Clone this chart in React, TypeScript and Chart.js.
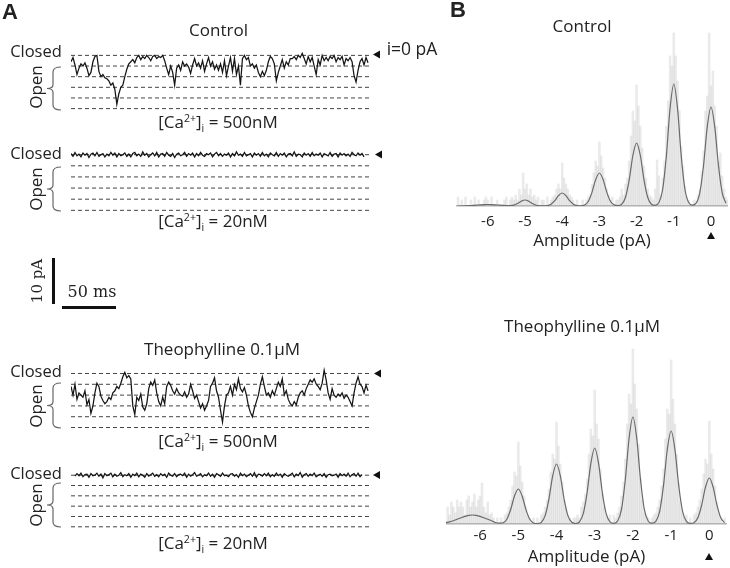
import React, { useEffect, useRef } from "react";
import { Chart, registerables } from "chart.js";
Chart.register(...registerables);

const SANS = '"Open Sans", "DejaVu Sans", sans-serif';
const SERIF = '"DejaVu Serif", "Liberation Serif", serif';
const INK = "#222";

// ---------- Panel A: single-channel traces (levels: 0 = closed, -1..-5 = open levels) ----------
const LEVELS = [0, -1, -2, -3, -4, -5];

const TRACE_CONTROL_500 = [
  -0.6, -0.2, -0.9, -1.8, -1.2, -0.8, -1.0, -0.7, -1.2, -1.9,
  -1.6, -0.6, -0.1, 0.0, -1.5, -2.0, -1.8, -2.1, -2.2, -2.4,
  -2.8, -2.6, -3.2, -4.6, -3.6, -3.0, -2.8, -2.0, -1.3, -0.8,
  -0.6, -0.4, -0.7, -0.2, 0.0, -0.4, -0.1, -0.3, 0.0, -0.2,
  -0.5, -0.1, 0.0, -0.3, -0.1, -0.2, 0.0, -0.5, -1.2, -1.8,
  -1.0, -1.6, -2.8, -1.2, -0.9, -1.4, -0.6, -1.0, -0.8, -1.1,
  -1.7, -0.9, -0.3, -1.0, -0.7, -1.2, -0.5, -1.5, -0.8, -0.2,
  -1.0, -0.6, -1.3, -0.9, -1.4, -0.8, -1.6, -0.5, -1.9, -1.0,
  -0.2, -1.5, -0.3, -1.8, -1.0, -2.8, -0.3, 0.0, -0.4, -0.2,
  -1.0, -0.8, -1.2, -0.9, -1.6, -2.0, -1.5, -1.9, -1.4, -0.6,
  -0.1, -0.3, -0.8, -2.4, -1.6, -1.0, -0.4, -1.2, -0.6, -0.9,
  -0.3, -0.3, -0.1, -0.4, 0.0, -0.2, 0.2, -0.3, -0.8, -0.1,
  -0.6, -0.2, -1.0, -1.8, -0.4, -0.9, 0.0, -0.5, -0.2, -0.5,
  -0.1, -0.3, 0.0, -0.6, -0.2, -0.4, -0.1, -0.9, -0.3, -0.5,
  -0.2, -0.6, -1.9, -2.5, -1.4, -0.6, -0.3, -0.9, -0.2, -0.7,
];

const TRACE_CONTROL_20 = [
  0.1, -0.15, 0.2, -0.1, 0.05, -0.2, 0.15, -0.05, 0.1, -0.25,
  0.05, 0.15, -0.1, 0.2, -0.15, 0.0, 0.1, -0.2, 0.05, -0.1,
  0.2, -0.05, 0.15, -0.2, 0.1, -0.1, 0.0, 0.15, -0.15, 0.05,
  -0.2, 0.1, 0.2, -0.1, 0.05, -0.15, 0.25, -0.05, 0.1, -0.2,
  0.0, 0.15, -0.1, 0.2, -0.2, 0.05, 0.1, -0.15, 0.2, -0.05,
  -0.15, 0.1, -0.25, 0.05, 0.15, -0.1, 0.0, 0.2, -0.15, 0.1,
  -0.05, 0.15, -0.2, 0.1, -0.1, 0.2, -0.05, -0.15, 0.1, 0.0,
  0.15, -0.2, 0.05, 0.2, -0.1, 0.1, -0.15, 0.05, -0.05, 0.15,
  -0.2, 0.1, -0.1, 0.25, -0.05, 0.05, -0.15, 0.2, -0.1, 0.0,
  0.1, -0.2, 0.15, -0.05, 0.1, -0.15, 0.2, -0.1, 0.05, -0.2,
  0.15, 0.0, -0.1, 0.2, -0.15, 0.1, -0.05, 0.15, -0.2, 0.05,
  0.1, -0.1, 0.25, -0.15, 0.05, 0.0, -0.2, 0.15, -0.05, 0.1,
  -0.15, 0.2, -0.1, 0.05, -0.05, 0.15, -0.2, 0.1, 0.0, -0.1,
  0.2, -0.15, 0.05, 0.1, -0.2, 0.15, -0.05, 0.1, -0.1, 0.05,
  -0.15, 0.2, 0.0, -0.1, 0.15, -0.05, 0.1, -0.2,
];

const TRACE_THEO_500 = [
  -1.2, -2.0, -1.0, -2.4, -1.8, -2.0, -2.2, -1.6, -2.9, -2.4,
  -3.7, -3.0, -1.8, -0.9, -1.2, -2.1, -2.5, -2.8, -2.6, -2.2,
  -2.4, -1.8, -1.6, -1.2, -1.4, -0.9, -0.3, 0.1, -0.4, -0.2,
  -0.5, -3.0, -3.8, -2.2, -2.5, -1.9, -3.1, -3.4, -2.8, -1.4,
  -0.8, -1.1, -0.6, -1.8, -2.6, -3.0, -2.2, -2.8, -1.2, -0.8,
  -1.1, -1.6, -1.9, -1.4, -1.8, -2.0, -2.1, -1.7, -2.2, -1.9,
  -1.0, -1.6, -2.3, -2.0, -2.6, -3.2, -2.8, -3.4, -3.0, -2.5,
  -1.2, -0.9, -0.4, -1.6, -2.2, -3.4, -4.5, -3.0, -2.0, -1.8,
  -1.2, -2.0, -1.0, -1.5, -0.5, -1.4, -1.7, -1.3, -2.0, -3.0,
  -3.6, -4.0, -3.2, -2.6, -2.0, -1.0, -0.3, -1.2, -2.0, -1.8,
  -2.2, -1.6, -2.0, -1.4, -0.8, -1.2, -0.5, -2.0, -1.6, -2.4,
  -2.8, -3.0, -2.6, -2.9, -2.2, -1.8, -1.6, -2.0, -1.4, -1.0,
  -0.6, -0.8, -0.5, -1.0, -1.2, -1.5, -0.9, 0.3, -0.6, -1.8,
  -2.4, -1.4, -2.0, -2.2, -1.9, -2.1, -1.8, -2.3, -2.0, -2.2,
  -2.6, -3.0, -1.8, -0.9, -0.3, -1.0, -1.2, -1.8, -1.1, -1.6,
];

const TRACE_THEO_20 = [
  -0.1, 0.15, -0.05, 0.2, -0.15, 0.05, 0.1, -0.2, 0.15, -0.05,
  0.0, 0.2, -0.1, 0.1, -0.25, 0.15, -0.05, 0.05, 0.2, -0.15,
  0.1, -0.1, 0.0, 0.25, -0.15, 0.05, -0.05, 0.15, -0.2, 0.1,
  -0.05, 0.2, -0.15, 0.1, 0.0, -0.2, 0.15, -0.1, 0.05, 0.2,
  -0.1, 0.05, -0.15, 0.15, -0.05, 0.1, -0.2, 0.2, 0.0, -0.1,
  0.15, -0.15, 0.05, 0.1, -0.05, 0.2, -0.2, 0.1, -0.1, 0.05,
  0.25, -0.1, 0.0, 0.15, -0.15, 0.05, -0.05, 0.2, -0.1, 0.1,
  -0.2, 0.15, 0.05, -0.1, 0.2, -0.05, 0.0, -0.15, 0.1, 0.15,
  -0.1, 0.05, -0.2, 0.2, -0.05, 0.1, -0.15, 0.0, 0.15, -0.1,
  0.25, -0.2, 0.1, 0.05, -0.1, 0.15, -0.05, 0.2, -0.15, 0.05,
  -0.1, 0.2, -0.05, 0.1, -0.2, 0.15, 0.0, -0.1, 0.05, 0.2,
  -0.15, 0.1, -0.05, 0.25, -0.2, 0.05, 0.15, -0.1, 0.1, -0.05,
  0.2, -0.15, 0.0, 0.1, -0.1, 0.15, -0.2, 0.05, 0.1, -0.05,
  0.0, 0.1, -0.2, 0.15, -0.05, 0.1, -0.1, 0.2, -0.15, 0.05,
  0.15, -0.1, 0.2, -0.15, 0.05,
];

// ---------- Panel B: amplitude histograms (counts) and Gaussian fits ----------
const AMP_TICKS = [-6, -5, -4, -3, -2, -1, 0];
const BIN_WIDTH = 0.05;
const FIT_STEP = 0.1;

const CONTROL_BIN_START = -6.8;
const CONTROL_COUNTS = [
  9, 0, 6, 0, 9, 0,
  0, 6, 0, 9, 0, 6, 0, 0, 6, 9, 6, 0, 9, 0, 0, 6, 0, 0, 0, 6,
  9, 0, 6, 9, 6, 11, 6, 17, 11, 33, 17, 22, 11, 17, 9, 11, 6, 9, 0, 6,
  6, 0, 9, 0, 6, 9, 11, 17, 22, 17, 43, 28, 22, 17, 11, 9, 6, 0, 6, 0,
  0, 6, 0, 6, 9, 11, 22, 33, 45, 40, 64, 50, 38, 28, 17, 11, 6, 9, 0, 6,
  6, 9, 17, 11, 22, 28, 45, 70, 95, 85, 121, 100, 80, 58, 40, 28, 17, 11, 9, 6,
  17, 46, 30, 11, 28, 45, 80, 105, 150, 140, 173, 150, 125, 95, 60, 40, 20, 9, 6, 0,
  0, 6, 0, 11, 17, 35, 55, 95, 110, 173, 120, 135, 100, 80, 45, 53, 30, 17, 9, 6,
];
const CONTROL_FIT_START = -6.8;
const CONTROL_FIT = [
  0, 0, 0.1, 0.3, 0.6, 0.9, 1.2, 1.4, 1.5, 1.4, 1.2, 0.9, 0.6, 0.4,
  0.4, 0.8, 2.5, 4.8, 6, 4.8, 2.5, 0.8, 0.2, 0.1,
  0.4, 1.8, 5.3, 10.4, 13, 10.4, 5.3, 1.8, 0.4, 0.2,
  0.9, 4.5, 13.6, 26.4, 33, 26.4, 13.6, 4.5, 1.1, 0.4,
  1.8, 8.5, 25.9, 50.5, 63, 50.5, 25.9, 8.5, 1.8, 0.7,
  3.4, 16.5, 50.1, 97.7, 122, 97.7, 50.1, 16.5, 3.4, 0.9,
  2.8, 13.4, 40.7, 79.3, 99, 79.3, 40.7, 13.4, 2.8,
];

const THEO_BIN_START = -6.85;
const THEO_COUNTS = [
  17, 9, 22, 17, 11, 24, 17,
  22, 17, 9, 24, 28, 17, 22, 30, 17, 24, 28, 41, 17, 11, 22, 9, 11, 6, 0, 6,
  0, 6, 0, 9, 11, 17, 24, 38, 52, 48, 82, 58, 42, 28, 17, 9, 6, 0, 6, 0,
  6, 0, 9, 11, 17, 24, 35, 52, 70, 65, 102, 78, 60, 42, 24, 17, 9, 6, 0, 6,
  6, 9, 6, 17, 22, 30, 45, 70, 95, 88, 134, 100, 85, 55, 30, 17, 9, 6, 9, 0,
  9, 6, 11, 17, 28, 42, 65, 100, 130, 120, 175, 140, 115, 80, 45, 24, 11, 9, 6, 0,
  6, 9, 11, 17, 24, 38, 55, 85, 115, 110, 164, 125, 100, 70, 40, 22, 11, 6, 9, 0,
  6, 0, 9, 11, 17, 24, 35, 50, 65, 60, 103, 70, 55, 38, 22, 11, 6, 0, 6, 0,
];
const THEO_FIT_START = -6.9;
const THEO_FIT = [
  1.3, 2.1, 3.2, 4.7, 6.2, 7.6, 8.6, 9, 8.6, 7.6, 6.2, 4.7, 3.2, 1.5, 0.8,
  1.2, 4.8, 14.5, 28, 35, 28, 14.4, 4.7, 1.0, 0.4,
  1.7, 8.1, 24.7, 48.1, 60, 48.1, 24.7, 8.1, 1.7, 0.5,
  2.1, 10.3, 31.2, 60.9, 76, 60.9, 31.2, 10.3, 2.1, 0.7,
  3.0, 14.4, 44, 85.7, 107, 85.7, 44, 14.4, 3.0, 0.8,
  2.6, 12.6, 38.2, 74.5, 93, 74.5, 38.2, 12.6, 2.6, 0.6,
  1.3, 6.2, 18.9, 36.8, 46, 36.8, 18.9, 6.2, 1.3,
];

// ---------- components ----------
function TraceChart({ values, start = 0, left, top, width, height }) {
  const ref = useRef(null);
  useEffect(() => {
    const chart = new Chart(ref.current, {
      type: "line",
      data: {
        datasets: [
          {
            data: values.map((y, i) => ({ x: i + start, y })),
            borderColor: "#151515",
            borderWidth: 1.25,
            pointRadius: 0,
            tension: 0,
          },
          ...LEVELS.map((lv) => ({
            data: [
              { x: 0, y: lv },
              { x: 151, y: lv },
            ],
            borderColor: "#444",
            borderWidth: 1,
            borderDash: [4, 3],
            pointRadius: 0,
          })),
        ],
      },
      options: {
        animation: false,
        responsive: false,
        events: [],
        layout: { padding: 0 },
        plugins: { legend: { display: false }, tooltip: { enabled: false } },
        scales: {
          x: { type: "linear", display: false, min: 0, max: 151 },
          y: { display: false, min: -5.6, max: 0.6 },
        },
      },
    });
    return () => chart.destroy();
  }, []);
  return (
    <canvas
      ref={ref}
      width={width}
      height={height}
      style={{ position: "absolute", left, top, width, height }}
    />
  );
}

function HistChart({ counts, binStart, fit, fitStart, xMin, xMax, yMax, left, top, width, axisHeight, tickPad }) {
  const ref = useRef(null);
  const height = yMax + axisHeight;
  useEffect(() => {
    const chart = new Chart(ref.current, {
      type: "bar",
      data: {
        datasets: [
          {
            type: "line",
            data: fit.map((y, i) => ({ x: +(fitStart + i * FIT_STEP).toFixed(2), y })),
            borderColor: "#6a6a6a",
            borderWidth: 1.2,
            pointRadius: 0,
            cubicInterpolationMode: "monotone",
            order: 0,
          },
          {
            type: "bar",
            data: counts.map((y, i) => ({ x: +(binStart + i * BIN_WIDTH).toFixed(3), y })),
            backgroundColor: "rgba(185,185,185,0.3)",
            borderWidth: 0,
            barPercentage: 1,
            categoryPercentage: 1,
            order: 1,
          },
        ],
      },
      options: {
        animation: false,
        responsive: false,
        events: [],
        layout: { padding: 0 },
        plugins: { legend: { display: false }, tooltip: { enabled: false } },
        scales: {
          x: {
            type: "linear",
            min: xMin,
            max: xMax,
            offset: false,
            grid: { display: false, drawTicks: false },
            border: { display: true, color: "#b0b0b0", width: 1.5 },
            afterBuildTicks: (axis) => {
              axis.ticks = AMP_TICKS.map((v) => ({ value: v }));
            },
            afterFit: (axis) => {
              axis.height = axisHeight;
            },
            ticks: {
              autoSkip: false,
              maxRotation: 0,
              padding: tickPad,
              color: INK,
              font: { family: SANS, size: 15 },
              callback: (v) => String(v),
            },
            title: {
              display: true,
              text: "Amplitude (pA)",
              color: INK,
              padding: { top: 0, bottom: 0 },
              font: { family: SANS, size: 17 },
            },
          },
          y: { display: false, min: 0, max: yMax },
        },
      },
    });
    return () => chart.destroy();
  }, []);
  return (
    <canvas
      ref={ref}
      width={width}
      height={height}
      style={{ position: "absolute", left, top, width, height }}
    />
  );
}

function Txt({ x, y, size = 17, family = SANS, weight = 400, rotate = false, children }) {
  return (
    <div
      style={{
        position: "absolute",
        left: x,
        top: y,
        transform: `translate(-50%, -50%)${rotate ? " rotate(-90deg)" : ""}`,
        fontFamily: family,
        fontSize: size,
        fontWeight: weight,
        lineHeight: 1,
        whiteSpace: "nowrap",
        color: INK,
      }}
    >
      {children}
    </div>
  );
}

function CaLabel({ x, y, conc }) {
  return (
    <Txt x={x} y={y}>
      [Ca
      <span style={{ fontSize: "0.62em", position: "relative", top: "-0.6em" }}>2+</span>]
      <span style={{ fontSize: "0.62em", position: "relative", top: "0.35em" }}>i</span>
      {" = " + conc}
    </Txt>
  );
}

function Brace({ top, bottom }) {
  const mid = (top + bottom) / 2;
  const d = `M61,${top} Q53,${top} 53,${top + 5} L53,${mid - 4} Q53,${mid} 47,${mid} Q53,${mid} 53,${mid + 4} L53,${bottom - 5} Q53,${bottom} 61,${bottom}`;
  return <path d={d} fill="none" stroke="#666" strokeWidth={1.2} />;
}

function LeftTri({ x, y }) {
  return <polygon points={`${x},${y} ${x + 7},${y - 4} ${x + 7},${y + 4}`} fill="#111" />;
}

function UpTri({ x, y }) {
  return <polygon points={`${x},${y - 4} ${x - 4},${y + 3} ${x + 4},${y + 3}`} fill="#111" />;
}

export default function App() {
  return (
    <div
      style={{
        position: "absolute",
        left: 0,
        top: 0,
        width: 730,
        height: 568,
        overflow: "hidden",
        background: "#fff",
      }}
    >
      {/* Panel A traces */}
      <TraceChart values={TRACE_CONTROL_500} left={71} top={49} width={301} height={66} />
      <TraceChart values={TRACE_CONTROL_20} left={71} top={148} width={301} height={69} />
      <TraceChart values={TRACE_THEO_500} left={71} top={367} width={301} height={67} />
      <TraceChart values={TRACE_THEO_20} start={2} left={71} top={469} width={301} height={64} />

      {/* Panel B histograms */}
      <HistChart
        counts={CONTROL_COUNTS}
        binStart={CONTROL_BIN_START}
        fit={CONTROL_FIT}
        fitStart={CONTROL_FIT_START}
        xMin={-6.855}
        xMax={0.457}
        yMax={176}
        left={456}
        top={30}
        width={272}
        axisHeight={45}
        tickPad={7}
      />
      <HistChart
        counts={THEO_COUNTS}
        binStart={THEO_BIN_START}
        fit={THEO_FIT}
        fitStart={THEO_FIT_START}
        xMin={-6.893}
        xMax={0.463}
        yMax={184}
        left={446}
        top={340}
        width={281}
        axisHeight={43}
        tickPad={3}
      />

      {/* graphics */}
      <svg
        width={730}
        height={568}
        style={{ position: "absolute", left: 0, top: 0, pointerEvents: "none" }}
      >
        <Brace top={67} bottom={110} />
        <Brace top={167} bottom={211} />
        <Brace top={383} bottom={428} />
        <Brace top={483} bottom={527} />
        <LeftTri x={373} y={54.5} />
        <LeftTri x={375} y={154.5} />
        <LeftTri x={374} y={373.5} />
        <LeftTri x={373} y={475} />
        <rect x={52} y={258} width={3} height={46} fill="#111" />
        <rect x={62} y={306} width={54} height={3} fill="#111" />
        <UpTri x={711} y={236} />
        <UpTri x={709} y={557} />
      </svg>

      {/* text */}
      <Txt x={10} y={12} size={22} weight={700} family='"Liberation Sans", Arial, sans-serif'>A</Txt>
      <Txt x={458} y={10} size={22} weight={700} family='"Liberation Sans", Arial, sans-serif'>B</Txt>

      <Txt x={218.5} y={29}>Control</Txt>
      <Txt x={36} y={51} size={16.5}>Closed</Txt>
      <Txt x={35} y={87} rotate>Open</Txt>
      <Txt x={412} y={49} size={17.5}>i=0 pA</Txt>
      <CaLabel x={218} y={121} conc="500nM" />

      <Txt x={36} y={153} size={16.5}>Closed</Txt>
      <Txt x={35} y={189} rotate>Open</Txt>
      <CaLabel x={213} y={220} conc="20nM" />

      <Txt x={37} y={281} size={15} family={SERIF} rotate>10 pA</Txt>
      <Txt x={92} y={292} size={16} family={SERIF}>50 ms</Txt>

      <Txt x={222} y={348}>Theophylline 0.1μM</Txt>
      <Txt x={36} y={371} size={16.5}>Closed</Txt>
      <Txt x={35} y={406} rotate>Open</Txt>
      <CaLabel x={218} y={440} conc="500nM" />

      <Txt x={36} y={473} size={16.5}>Closed</Txt>
      <Txt x={35} y={505} rotate>Open</Txt>
      <CaLabel x={213} y={542} conc="20nM" />

      <Txt x={582} y={25}>Control</Txt>
      <Txt x={582} y={325}>Theophylline 0.1μM</Txt>
    </div>
  );
}
